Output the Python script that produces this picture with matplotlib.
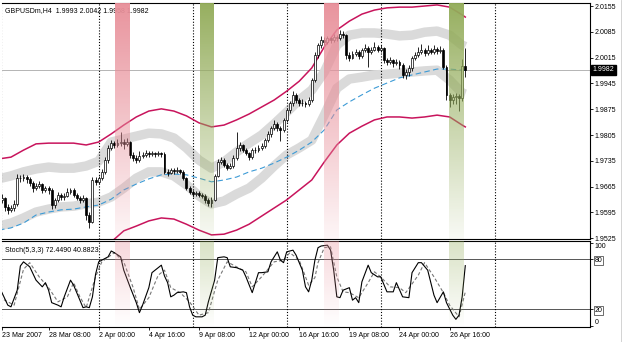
import numpy as np
import matplotlib
matplotlib.use("Agg")
import matplotlib.pyplot as plt
from matplotlib.colors import to_rgb
from matplotlib.lines import Line2D

plt.rcParams['font.family'] = ['Liberation Sans', 'DejaVu Sans']

# ---- H4 candles, bar 0 = 23 Mar 2007 16:00 ----
opens = [1.9640, 1.9629, 1.9634, 1.9610, 1.9602, 1.9607, 1.9618, 1.9688, 1.9688, 1.9691,
         1.9686, 1.9675, 1.9661, 1.9667, 1.9672, 1.9656, 1.9661, 1.9656, 1.9615, 1.9629,
         1.9642, 1.9637, 1.9640, 1.9651, 1.9656, 1.9642, 1.9634, 1.9629, 1.9634, 1.9588,
         1.9569, 1.9683, 1.9678, 1.9688, 1.9705, 1.9737, 1.9770, 1.9783, 1.9778, 1.9783,
         1.9786, 1.9780, 1.9786, 1.9751, 1.9743, 1.9737, 1.9748, 1.9751, 1.9756, 1.9753,
         1.9756, 1.9753, 1.9756, 1.9753, 1.9705, 1.9702, 1.9710, 1.9708, 1.9710, 1.9705,
         1.9688, 1.9661, 1.9651, 1.9645, 1.9648, 1.9642, 1.9640, 1.9629, 1.9621, 1.9629,
         1.9694, 1.9732, 1.9737, 1.9724, 1.9716, 1.9721, 1.9743, 1.9770, 1.9778, 1.9764,
         1.9756, 1.9745, 1.9764, 1.9764, 1.9770, 1.9775, 1.9791, 1.9808, 1.9824, 1.9836,
         1.9824, 1.9819, 1.9846, 1.9873, 1.9892, 1.9914, 1.9900, 1.9892, 1.9892, 1.9889,
         1.9900, 1.9954, 2.0022, 2.0049, 2.0063, 2.0057, 2.0068, 2.0063, 2.0071, 2.0068,
         2.0079, 2.0076, 2.0022, 2.0014, 2.0025, 2.0030, 2.0019, 2.0036, 2.0041, 2.0030,
         2.0036, 2.0044, 2.0036, 2.0041, 2.0008, 2.0003, 2.0008, 2.0000, 2.0003, 1.9995,
         1.9968, 1.9976, 1.9987, 2.0014, 2.0022, 2.0030, 2.0036, 2.0027, 2.0036, 2.0030,
         2.0038, 2.0033, 2.0036, 1.9990, 1.9914, 1.9900, 1.9908, 1.9911, 1.9905, 1.9993]
highs = [1.9648, 1.9645, 1.9638, 1.9618, 1.9615, 1.9630, 1.9700, 1.9697, 1.9699, 1.9696,
         1.9692, 1.9680, 1.9675, 1.9680, 1.9676, 1.9668, 1.9666, 1.9660, 1.9635, 1.9650,
         1.9648, 1.9647, 1.9660, 1.9662, 1.9660, 1.9648, 1.9640, 1.9642, 1.9638, 1.9596,
         1.9690, 1.9692, 1.9695, 1.9712, 1.9745, 1.9778, 1.9792, 1.9790, 1.9795, 1.9813,
         1.9794, 1.9796, 1.9790, 1.9758, 1.9750, 1.9762, 1.9760, 1.9765, 1.9762, 1.9762,
         1.9760, 1.9762, 1.9760, 1.9758, 1.9712, 1.9716, 1.9715, 1.9718, 1.9714, 1.9709,
         1.9692, 1.9666, 1.9656, 1.9654, 1.9652, 1.9648, 1.9645, 1.9634, 1.9636, 1.9700,
         1.9740, 1.9745, 1.9742, 1.9730, 1.9728, 1.9750, 1.9813, 1.9785, 1.9782, 1.9770,
         1.9760, 1.9770, 1.9772, 1.9778, 1.9784, 1.9798, 1.9815, 1.9830, 1.9845, 1.9840,
         1.9830, 1.9852, 1.9878, 1.9898, 1.9925, 1.9920, 1.9906, 1.9902, 1.9898, 1.9908,
         1.9960, 2.0030, 2.0056, 2.0075, 2.0070, 2.0075, 2.0072, 2.0078, 2.0076, 2.0090,
         2.0086, 2.0080, 2.0030, 2.0032, 2.0038, 2.0036, 2.0042, 2.0052, 2.0046, 2.0044,
         2.0058, 2.0050, 2.0048, 2.0044, 2.0014, 2.0016, 2.0012, 2.0010, 2.0008, 2.0000,
         1.9985, 1.9995, 2.0020, 2.0030, 2.0045, 2.0052, 2.0042, 2.0050, 2.0042, 2.0048,
         2.0044, 2.0046, 2.0040, 1.9995, 1.9920, 1.9915, 1.9918, 1.9916, 2.0010, 2.0042]
lows = [1.9622, 1.9620, 1.9600, 1.9590, 1.9596, 1.9600, 1.9612, 1.9678, 1.9680, 1.9676,
        1.9668, 1.9650, 1.9655, 1.9660, 1.9648, 1.9650, 1.9645, 1.9605, 1.9608, 1.9622,
        1.9630, 1.9630, 1.9636, 1.9645, 1.9636, 1.9628, 1.9620, 1.9624, 1.9575, 1.9553,
        1.9565, 1.9670, 1.9672, 1.9682, 1.9700, 1.9730, 1.9765, 1.9770, 1.9772, 1.9776,
        1.9766, 1.9774, 1.9742, 1.9735, 1.9728, 1.9732, 1.9742, 1.9745, 1.9746, 1.9748,
        1.9746, 1.9748, 1.9745, 1.9698, 1.9695, 1.9698, 1.9700, 1.9703, 1.9698, 1.9682,
        1.9655, 1.9645, 1.9638, 1.9640, 1.9636, 1.9633, 1.9620, 1.9612, 1.9610, 1.9625,
        1.9690, 1.9726, 1.9718, 1.9710, 1.9712, 1.9716, 1.9738, 1.9762, 1.9758, 1.9750,
        1.9738, 1.9740, 1.9756, 1.9760, 1.9765, 1.9770, 1.9785, 1.9800, 1.9818, 1.9816,
        1.9790, 1.9812, 1.9840, 1.9866, 1.9885, 1.9893, 1.9884, 1.9885, 1.9880, 1.9884,
        1.9895, 1.9950, 2.0015, 2.0042, 2.0048, 2.0052, 2.0055, 2.0058, 2.0060, 2.0064,
        2.0068, 2.0012, 2.0005, 2.0010, 2.0020, 2.0010, 2.0015, 2.0030, 1.9990, 2.0025,
        2.0032, 2.0030, 2.0030, 2.0000, 1.9994, 1.9998, 1.9990, 1.9994, 1.9985, 1.9960,
        1.9958, 1.9965, 1.9980, 2.0008, 2.0016, 2.0025, 2.0020, 2.0022, 2.0024, 2.0026,
        2.0026, 2.0028, 1.9985, 1.9900, 1.9880, 1.9888, 1.9890, 1.9870, 1.9898, 1.9962]
closes = [1.9629, 1.9634, 1.9610, 1.9602, 1.9607, 1.9618, 1.9688, 1.9688, 1.9691, 1.9686,
          1.9675, 1.9661, 1.9667, 1.9672, 1.9656, 1.9661, 1.9656, 1.9615, 1.9629, 1.9642,
          1.9637, 1.9640, 1.9651, 1.9656, 1.9642, 1.9634, 1.9629, 1.9634, 1.9588, 1.9569,
          1.9683, 1.9678, 1.9688, 1.9705, 1.9737, 1.9770, 1.9783, 1.9778, 1.9783, 1.9786,
          1.9780, 1.9786, 1.9751, 1.9743, 1.9737, 1.9748, 1.9751, 1.9756, 1.9753, 1.9756,
          1.9753, 1.9756, 1.9753, 1.9705, 1.9702, 1.9710, 1.9708, 1.9710, 1.9705, 1.9688,
          1.9661, 1.9651, 1.9645, 1.9648, 1.9642, 1.9640, 1.9629, 1.9621, 1.9629, 1.9694,
          1.9732, 1.9737, 1.9724, 1.9716, 1.9721, 1.9743, 1.9770, 1.9778, 1.9764, 1.9756,
          1.9745, 1.9764, 1.9764, 1.9770, 1.9775, 1.9791, 1.9808, 1.9824, 1.9836, 1.9824,
          1.9819, 1.9846, 1.9873, 1.9892, 1.9914, 1.9900, 1.9892, 1.9892, 1.9889, 1.9900,
          1.9954, 2.0022, 2.0049, 2.0063, 2.0057, 2.0068, 2.0063, 2.0071, 2.0068, 2.0079,
          2.0076, 2.0022, 2.0014, 2.0025, 2.0030, 2.0019, 2.0036, 2.0041, 2.0030, 2.0036,
          2.0044, 2.0036, 2.0041, 2.0008, 2.0003, 2.0008, 2.0000, 2.0003, 1.9995, 1.9968,
          1.9976, 1.9987, 2.0014, 2.0022, 2.0030, 2.0036, 2.0027, 2.0036, 2.0030, 2.0038,
          2.0033, 2.0036, 1.9990, 1.9914, 1.9900, 1.9908, 1.9911, 1.9905, 1.9993, 1.9982]
last_price = 1.9982

# ---- indicator lines, sampled every 4 bars ----
ind_bars = [0, 4, 8, 12, 16, 20, 24, 28, 32, 36, 40, 44, 48, 52, 56, 60, 64, 68, 72, 76,
            80, 84, 88, 92, 96, 100, 104, 108, 112, 116, 120, 124, 128, 132, 136, 140, 144, 148, 149]
env_upper = [1.9740, 1.9745, 1.9764, 1.9781, 1.9783, 1.9783, 1.9783, 1.9778, 1.9786, 1.9808,
             1.9832, 1.9854, 1.9870, 1.9876, 1.9870, 1.9857, 1.9838, 1.9827, 1.9832, 1.9846,
             1.9862, 1.9881, 1.9900, 1.9924, 1.9951, 1.9987, 2.0044, 2.0090, 2.0114, 2.0133,
             2.0144, 2.0150, 2.0152, 2.0152, 2.0155, 2.0158, 2.0152, 2.0131, 2.0125]
env_lower = [1.9447, 1.9452, 1.9471, 1.9488, 1.9490, 1.9490, 1.9490, 1.9485, 1.9493, 1.9515,
             1.9545, 1.9558, 1.9572, 1.9580, 1.9577, 1.9563, 1.9547, 1.9534, 1.9536, 1.9547,
             1.9563, 1.9585, 1.9607, 1.9629, 1.9656, 1.9683, 1.9732, 1.9778, 1.9810, 1.9829,
             1.9846, 1.9854, 1.9854, 1.9851, 1.9854, 1.9859, 1.9854, 1.9832, 1.9827]
chan_upper = [1.9686, 1.9694, 1.9705, 1.9713, 1.9718, 1.9715, 1.9715, 1.9721, 1.9734, 1.9786,
              1.9794, 1.9802, 1.9810, 1.9808, 1.9797, 1.9770, 1.9737, 1.9715, 1.9732, 1.9759,
              1.9783, 1.9805, 1.9835, 1.9867, 1.9900, 1.9927, 1.9976, 2.0049, 2.0076, 2.0082,
              2.0082, 2.0079, 2.0074, 2.0076, 2.0084, 2.0087, 2.0076, 2.0049, 2.0045]
chan_lower = [1.9558, 1.9566, 1.9580, 1.9596, 1.9604, 1.9610, 1.9612, 1.9618, 1.9623, 1.9637,
              1.9661, 1.9688, 1.9705, 1.9705, 1.9694, 1.9670, 1.9640, 1.9618, 1.9626, 1.9645,
              1.9661, 1.9688, 1.9721, 1.9751, 1.9770, 1.9791, 1.9859, 1.9932, 1.9957, 1.9962,
              1.9968, 1.9970, 1.9973, 1.9976, 1.9979, 1.9981, 1.9954, 1.9919, 1.9916]
ma_line = [1.9547, 1.9553, 1.9566, 1.9588, 1.9596, 1.9602, 1.9604, 1.9610, 1.9615, 1.9631,
           1.9656, 1.9672, 1.9686, 1.9697, 1.9699, 1.9697, 1.9688, 1.9678, 1.9683, 1.9691,
           1.9705, 1.9715, 1.9729, 1.9745, 1.9764, 1.9786, 1.9819, 1.9873, 1.9895, 1.9914,
           1.9932, 1.9946, 1.9960, 1.9968, 1.9976, 1.9984, 1.9984, 1.9981, 1.9981]

# ---- Stochastic (5,3,3) ----
k_bars = [0, 1, 3, 4, 6, 7, 8, 10, 12, 14, 15, 16, 17, 19, 20, 21, 23, 24, 25, 27, 28, 29, 30, 31, 32,
          33, 35, 36, 37, 39, 40, 42, 44, 45, 46, 48, 49, 51, 52, 53, 54, 55, 56, 57, 59, 60, 61, 62,
          63, 65, 66, 67, 69, 70, 72, 73, 74, 76, 78, 79, 81, 82, 83, 84, 86, 87, 89, 90, 91, 92, 94,
          95, 97, 98, 99, 100, 101, 102, 103, 105, 106, 107, 108, 109, 110, 112, 113, 114, 115, 116,
          118, 119, 121, 122, 124, 126, 127, 129, 131, 132, 134, 135, 137, 139, 140, 142, 143, 145,
          146, 147, 148, 149]
k_vals = [45, 41, 25, 23, 43, 72, 77, 71, 55, 47, 52, 43, 28, 25, 23, 35, 55, 49, 40, 22, 23, 22, 35, 62, 77,
          79, 83, 90, 88, 83, 67, 47, 28, 16, 25, 46, 64, 70, 73, 60, 52, 35, 37, 40, 41, 40, 23, 13,
          11, 11, 13, 29, 55, 82, 83, 82, 71, 70, 67, 59, 40, 52, 64, 64, 65, 77, 89, 79, 76, 89, 91,
          85, 67, 47, 41, 55, 79, 94, 96, 97, 91, 67, 35, 34, 43, 46, 31, 34, 28, 53,
          73, 64, 59, 59, 41, 41, 52, 35, 34, 64, 76, 76, 67, 37, 28, 41, 28, 13,
          8, 13, 35, 72.449]
d_bars = [0, 3, 5, 8, 10, 13, 16, 19, 22, 24, 26, 28, 31, 33, 37, 40, 43, 45, 48, 51, 53, 55, 58, 61,
          64, 67, 70, 73, 76, 79, 81, 84, 88, 91, 93, 96, 99, 101, 102, 104, 106, 108, 110, 112, 115,
          118, 120, 122, 125, 128, 130, 134, 136, 139, 142, 144, 147, 149]
d_vals = [35, 29, 25, 68, 76, 59, 46, 29, 35, 52, 35, 22, 59, 77, 88, 77, 46, 20, 34, 61, 67, 46, 40, 29,
          13, 16, 55, 77, 71, 65, 47, 59, 77, 79, 88, 79, 49, 58, 76, 94, 95, 59, 41, 40, 34,
          52, 65, 59, 47, 46, 40, 61, 76, 59, 40, 25, 11, 40.8823]

# signal zones (bar ranges) and time axis
sell_zones = [(37.2, 41.7), (103.9, 108.4)]
buy_zones = [(64.3, 68.5), (143.8, 148.3)]
week_grid = [0.9, 32, 62, 92, 122, 158.5]
date_bars = [0, 16, 32, 48, 64, 80, 96, 112, 128, 144]
date_labels = ['23 Mar 2007', '28 Mar 08:00', '2 Apr 00:00', '4 Apr 16:00', '9 Apr 08:00',
               '12 Apr 00:00', '16 Apr 16:00', '19 Apr 08:00', '24 Apr 00:00', '26 Apr 16:00']
price_ticks = [2.0155, 2.0085, 2.0015, 1.9945, 1.9875, 1.9805, 1.9735, 1.9665, 1.9595, 1.9525]

W, H = 625, 342


def rect(l, t, r, b):
    return [l / W, 1 - b / H, (r - l) / W, (b - t) / H]


def shade(a, x0, x1, color, a_top, a_bot):
    y0, y1 = a.get_ylim()
    rgba = np.zeros((256, 2, 4))
    rgba[..., :3] = to_rgb(color)
    rgba[:, :, 3] = np.linspace(a_top, a_bot, 256)[:, None]
    a.imshow(rgba, extent=(x0, x1, y0, y1), origin='upper', aspect='auto',
             interpolation='nearest', zorder=6)


fig = plt.figure(figsize=(W / 100, H / 100), dpi=100)
ax = fig.add_axes(rect(2, 3, 590, 239))
ax2 = fig.add_axes(rect(2, 241, 590, 327))
xlim = (1.14, 188.8)

bars = np.arange(len(closes))
o, h, l, c = map(np.array, (opens, highs, lows, closes))
bull = c >= o

# main price panel
ax.plot(ind_bars, chan_upper, color='#DADADA', lw=6.8, solid_capstyle='butt', zorder=1)
ax.plot(ind_bars, chan_lower, color='#DADADA', lw=6.8, solid_capstyle='butt', zorder=1)
ax.plot(ind_bars, env_upper, color='#C8145C', lw=1.1, zorder=2)
ax.plot(ind_bars, env_lower, color='#C8145C', lw=1.1, zorder=2)
ax.plot(ind_bars, ma_line, color='#3D9BD6', lw=0.8, ls=(0, (5, 3)), zorder=2)
ax.axhline(last_price, color='#A8A8A8', lw=0.6, zorder=0.5)
for g in week_grid:
    ax.axvline(g, color='black', lw=0.8, ls=(0, (1, 1.6)), zorder=1.5)
    ax2.axvline(g, color='black', lw=0.8, ls=(0, (1, 1.6)), zorder=1.5)

ax.vlines(bars, l, h, color='black', lw=0.6, zorder=3)
ax.bar(bars, np.maximum(np.abs(c - o), 0.00008), bottom=np.minimum(o, c), width=0.62,
       color=np.where(bull, 'white', 'black'), edgecolor='black', linewidth=0.5, zorder=4)

ax.set_xlim(*xlim)
ax.set_ylim(1.95229, 2.01632)
ax.set_autoscale_on(False)

ax.text(0.005, 0.966, 'GBPUSDm,H4  1.9993 2.0042 1.9958 1.9982', transform=ax.transAxes,
        fontsize=5, va='center', ha='left', zorder=5)

for x0, x1 in sell_zones:
    shade(ax, x0, x1, '#E8909A', 0.97, 0.08)
for x0, x1 in buy_zones:
    shade(ax, x0, x1, '#93AC5A', 0.97, 0.06)

ax.set_xticks([])
ax.yaxis.tick_right()
ax.set_yticks(price_ticks)
ax.set_yticklabels(['%.4f' % p for p in price_ticks])
ax.tick_params(axis='y', length=2, width=0.6, pad=1.5, labelsize=5)
ax.spines['left'].set_visible(False)
for s in ('top', 'right', 'bottom'):
    ax.spines[s].set_linewidth(0.8)

ax.text(1.004, last_price, '1.9982', transform=ax.get_yaxis_transform(), fontsize=5,
        color='white', va='center', ha='left', clip_on=False, zorder=10,
        bbox=dict(boxstyle='square,pad=0.25', fc='black', ec='black'))

# stochastic panel
ax2.set_xlim(*xlim)
ax2.set_ylim(-1.2, 102)
ax2.set_autoscale_on(False)
ax2.axhline(80, color='#555555', lw=0.7, zorder=1)
ax2.axhline(20, color='#555555', lw=0.7, zorder=1)
ax2.plot(d_bars, d_vals, color='#777777', lw=0.8, ls=(0, (3, 2)), zorder=3)
ax2.plot(k_bars, k_vals, color='black', lw=0.8, zorder=4)
for x0, x1 in sell_zones:
    shade(ax2, x0, x1, '#E8909A', 0.35, 0.0)
for x0, x1 in buy_zones:
    shade(ax2, x0, x1, '#93AC5A', 0.35, 0.0)

ax2.text(0.005, 0.895, 'Stoch(5,3,3) 72.4490 40.8823', transform=ax2.transAxes,
         fontsize=5, va='center', ha='left', zorder=7)

ax2.yaxis.tick_right()
ax2.set_yticks([100, 80, 20, 0])
ax2.set_yticklabels(['100', '80', '20', '0'])
ax2.tick_params(axis='y', length=2, width=0.6, pad=1.5, labelsize=5)
ylabels = ax2.get_yticklabels()
ylabels[0].set_va('top')
ylabels[3].set_va('bottom')
for lab in (ylabels[1], ylabels[2]):
    lab.set_bbox(dict(boxstyle='square,pad=0.1', fc='white', ec='#333333', lw=0.5))

tick_pos = [max(b, xlim[0]) for b in date_bars]
ax2.set_xticks(tick_pos)
ax2.set_xticklabels(date_labels, ha='left')
ax2.tick_params(axis='x', length=2, width=0.6, pad=1.5, labelsize=5)
ax2.spines['left'].set_visible(False)
for s in ('top', 'right', 'bottom'):
    ax2.spines[s].set_linewidth(0.8)

fig.add_artist(Line2D([621 / W, 621 / W], [0, 1], color='#CCCCCC', lw=0.6))

fig.savefig('out.png', dpi=100)
